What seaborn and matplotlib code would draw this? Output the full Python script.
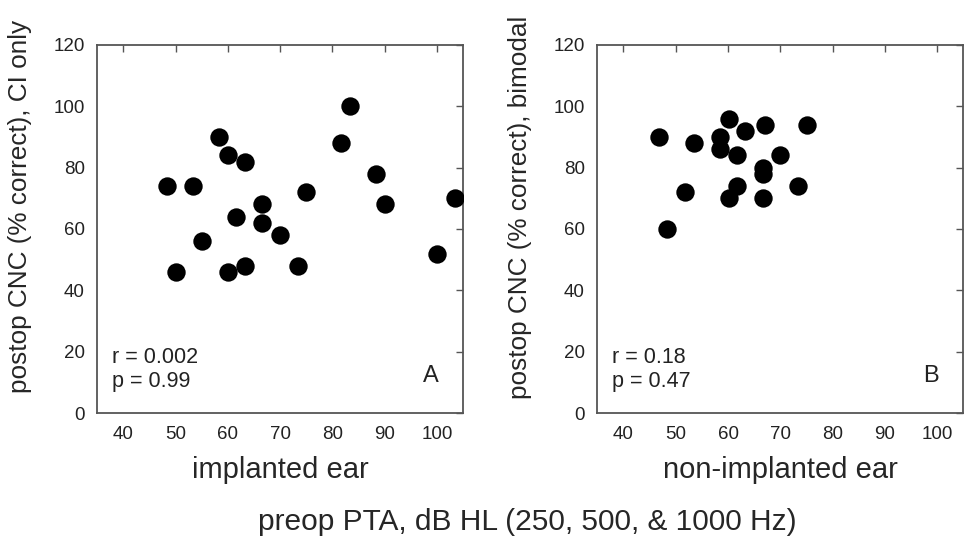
import numpy as np
import pandas as pd
import matplotlib
matplotlib.use("Agg")
import matplotlib.pyplot as plt
import seaborn as sns

# Panel A: implanted ear PTA vs CI-only CNC
pta_ci = [48.4, 53.3, 50.1, 55.1, 58.3, 60.0, 63.3, 60.0, 63.3, 61.6, 66.6,
          66.6, 70.0, 73.4, 75.0, 81.7, 83.4, 88.3, 90.1, 100.0, 103.4]
cnc_ci = [74, 74, 46, 56, 90, 84, 82, 46, 48, 64, 68,
          62, 58, 48, 72, 88, 100, 78, 68, 52, 70]

# Panel B: non-implanted ear PTA vs bimodal CNC
pta_bi = [46.8, 48.4, 51.7, 53.4, 58.4, 58.4, 60.1, 60.1, 61.7, 61.7, 63.3,
          66.7, 66.7, 66.7, 67.1, 70.0, 73.3, 75.1]
cnc_bi = [90, 60, 72, 88, 90, 86, 96, 70, 84, 74, 92,
          80, 78, 70, 94, 84, 74, 94]

xticks = [40, 50, 60, 70, 80, 90, 100]
yticks = [0, 20, 40, 60, 80, 100, 120]

sns.set_style("white")
plt.rcParams['font.family'] = ['Liberation Sans', 'DejaVu Sans']

fig = plt.figure(figsize=(9.66, 5.42), dpi=100)
ax1 = fig.add_axes([0.1007, 0.238, 0.3786, 0.679])
ax2 = fig.add_axes([0.6183, 0.238, 0.379, 0.679])

panels = [
    (ax1, pta_ci, cnc_ci, "postop CNC (% correct), CI only", "implanted ear",
     "r = 0.002\np = 0.99", "A"),
    (ax2, pta_bi, cnc_bi, "postop CNC (% correct), bimodal", "non-implanted ear",
     "r = 0.18\np = 0.47", "B"),
]

for ax, x, y, ylab, xlab, stats, letter in panels:
    df = pd.DataFrame({"pta": x, "cnc": y})
    sns.scatterplot(data=df, x="pta", y="cnc", ax=ax, color="black",
                    s=175, linewidth=0, zorder=3)
    ax.set_xlim(35, 105)
    ax.set_ylim(0, 120)
    ax.set_xticks(xticks)
    ax.set_yticks(yticks)
    ax.tick_params(direction="in", length=5, width=1, color="#555555",
                   top=True, right=True, labelsize=13.5, labelcolor="#222222",
                   pad=9)
    for sp in ax.spines.values():
        sp.set_color("#555555")
        sp.set_linewidth(1.3)
    ax.set_ylabel(ylab, fontsize=18.8)
    ax.yaxis.set_label_coords(-0.178, 0.56)
    ax.set_xlabel(xlab, fontsize=21, labelpad=10)
    ax.text(37.8, 14.2, stats, fontsize=15.5, ha="left", va="center",
            linespacing=1.2, color="#222222")
    ax.text(98.8, 12, letter, fontsize=17, ha="center", va="center",
            color="#222222")

fig.text(0.546, 0.037, "preop PTA, dB HL (250, 500, & 1000 Hz)", fontsize=21.5,
         ha="center", va="center")

fig.savefig("out.png", dpi=100)
